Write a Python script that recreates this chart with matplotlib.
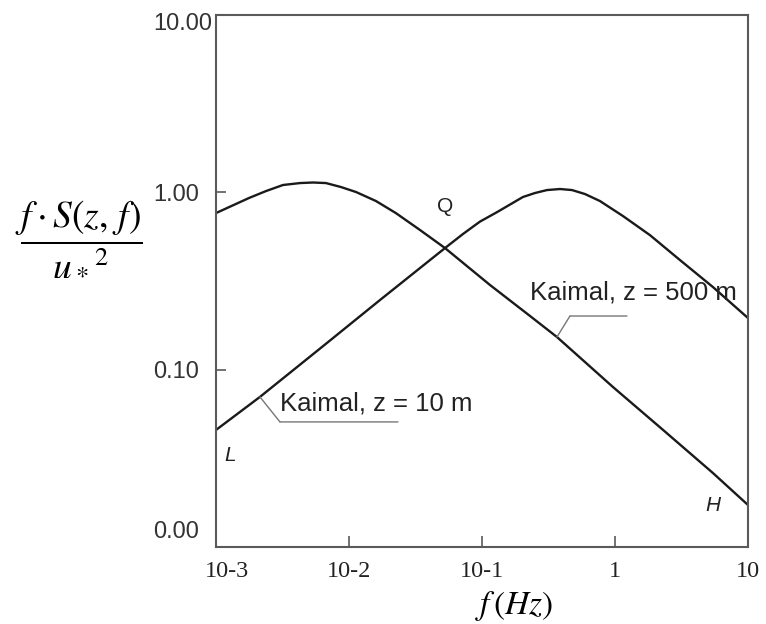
import matplotlib
matplotlib.use("Agg")
import matplotlib.pyplot as plt
from matplotlib.transforms import offset_copy, ScaledTranslation

# ---- data ----
freq_500 = [0.001, 0.00177, 0.00238, 0.00319, 0.00429, 0.00536, 0.00671, 0.00871,
            0.0113, 0.01596, 0.0225, 0.0342, 0.0527, 0.115, 0.230, 0.366,
            0.966, 2.30, 5.46, 10.0]
spec_500 = [0.764, 0.929, 1.017, 1.10, 1.128, 1.136, 1.128, 1.071,
            1.004, 0.893, 0.764, 0.613, 0.485, 0.300, 0.2006, 0.1528,
            0.0798, 0.0457, 0.0261, 0.01725]

freq_10 = [0.001, 0.00214, 0.00684, 0.0171, 0.0527, 0.0719, 0.0966, 0.130,
           0.203, 0.250, 0.308, 0.386, 0.475, 0.595, 0.771, 1.148,
           1.83, 3.08, 5.46, 10.0]
spec_10 = [0.0457, 0.0702, 0.1416, 0.247, 0.485, 0.582, 0.684, 0.774,
           0.941, 0.991, 1.030, 1.044, 1.030, 0.978, 0.893, 0.735,
           0.574, 0.415, 0.292, 0.1955]

x_ticks = [1e-3, 1e-2, 1e-1, 1, 10]
x_tick_labels = ["10-3", "10-2", "10-1", "1", "10"]
y_ticks = [0.01, 0.1, 1, 10]
y_tick_labels = ["0.00", "0.10", "1.00", "10.00"]

label_500 = "Kaimal, z = 500 m"
label_10 = "Kaimal, z = 10 m"

plt.rcParams["mathtext.fontset"] = "stix"

W, H = 766, 624
fig = plt.figure(figsize=(W / 100, H / 100), dpi=100)
ax = fig.add_axes([216 / W, 1 - 547 / H, (748 - 216) / W, (547 - 15) / H])

ax.set_xscale("log")
ax.set_yscale("log")
ax.set_xlim(1e-3, 10)
ax.set_ylim(0.01, 10)

line_col = "#1a1a1a"
ax.plot(freq_500, spec_500, color=line_col, lw=1.7, solid_joinstyle="round")
ax.plot(freq_10, spec_10, color=line_col, lw=1.7, solid_joinstyle="round")

for s in ax.spines.values():
    s.set_color("#5a5a5a")
    s.set_linewidth(1.5)

ax.set_xticks(x_ticks)
ax.set_xticklabels(x_tick_labels, family="Liberation Serif", fontsize=17.5, color="#222222")
ax.set_yticks(y_ticks)
ax.set_yticklabels(y_tick_labels, family="Liberation Sans", fontsize=17, color="#333333")
ax.minorticks_off()
ax.tick_params(axis="x", direction="in", length=8, width=1.2, color="#5a5a5a", pad=10)
ax.tick_params(axis="y", direction="in", length=7, width=1.2, color="#5a5a5a", pad=12)

# shift end labels like the reference
d = fig.dpi_scale_trans
ylabels = ax.get_yticklabels()
ylabels[0].set_transform(ylabels[0].get_transform() + ScaledTranslation(0, 18 / 100, d))
ylabels[-1].set_transform(ylabels[-1].get_transform() + ScaledTranslation(13 / 100, -7 / 100, d))
xlabels = ax.get_xticklabels()
xlabels[0].set_transform(xlabels[0].get_transform() + ScaledTranslation(11 / 100, 0, d))

# point labels
ax.text(0.00127, 0.033, "L", style="italic", family="Liberation Sans", fontsize=15,
        ha="center", va="center", color="#222222")
ax.text(0.0527, 0.83, "Q", family="Liberation Sans", fontsize=15,
        ha="center", va="center", color="#222222")
ax.text(5.46, 0.0172, "H", style="italic", family="Liberation Sans", fontsize=15,
        ha="center", va="center", color="#222222")

# curve labels with leaders
lead_col = "#777777"
i500 = 15
elbow500 = offset_copy(ax.transData, fig=fig, x=13, y=21, units="dots")
ax.annotate("", xy=(freq_500[i500], spec_500[i500]), xycoords="data",
            xytext=(13, 21), textcoords="offset pixels",
            arrowprops=dict(arrowstyle="-", color=lead_col, lw=1.0, shrinkA=0, shrinkB=0))
ax.annotate("", xy=(freq_500[i500], spec_500[i500]), xycoords=elbow500,
            xytext=(57, 0), textcoords="offset pixels",
            arrowprops=dict(arrowstyle="-", color=lead_col, lw=1.0, shrinkA=0, shrinkB=0))
ax.annotate(label_500, xy=(freq_500[i500], spec_500[i500]), xycoords="data",
            xytext=(-27, 45), textcoords="offset pixels", ha="left", va="center",
            family="Liberation Sans", fontsize=18.5, color="#222222")

i10 = 1
elbow10 = offset_copy(ax.transData, fig=fig, x=20, y=-25, units="dots")
ax.annotate("", xy=(freq_10[i10], spec_10[i10]), xycoords="data",
            xytext=(20, -25), textcoords="offset pixels",
            arrowprops=dict(arrowstyle="-", color=lead_col, lw=1.0, shrinkA=0, shrinkB=0))
ax.annotate("", xy=(freq_10[i10], spec_10[i10]), xycoords=elbow10,
            xytext=(118, 0), textcoords="offset pixels",
            arrowprops=dict(arrowstyle="-", color=lead_col, lw=1.0, shrinkA=0, shrinkB=0))
ax.annotate(label_10, xy=(freq_10[i10], spec_10[i10]), xycoords="data",
            xytext=(20, -7), textcoords="offset pixels", ha="left", va="center",
            family="Liberation Sans", fontsize=18.5, color="#222222")

# axis labels
fig.text(79 / W, 1 - 238 / H, r"$\dfrac{f\cdot S(z,\,f)}{{u_*}^{2}}$", fontsize=27,
         ha="center", va="center")
fig.text(514 / W, 1 - 606 / H, r"$f\,(Hz)$", fontsize=24, ha="center", va="center")

fig.savefig("out.png", dpi=100)
